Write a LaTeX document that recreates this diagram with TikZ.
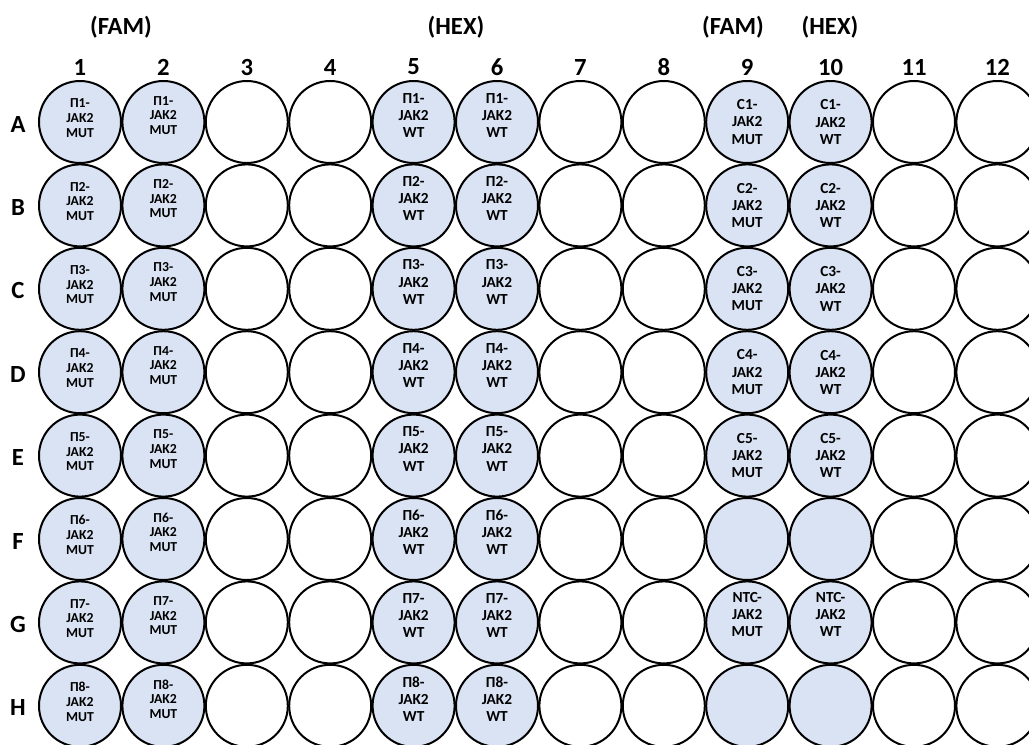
\documentclass[tikz,border=0pt]{standalone}
\usepackage{fontspec}
\setmainfont{Carlito}
\usepackage{tikz}
\usetikzlibrary{positioning}
\definecolor{WellBlue}{HTML}{DAE3F3}

\begin{document}
\begin{tikzpicture}[x=0.75pt, y=-0.75pt,
    well/.style={circle, draw=black, line width=1.5pt, fill=white, minimum size=61.5pt, inner sep=0pt},
    used/.style={well, fill=WellBlue},
    head/.style={font=\fontsize{18.5}{22}\selectfont\bfseries},
    tagA/.style={align=center, font=\fontsize{10.3}{11}\selectfont\bfseries},
    tagB/.style={align=center, font=\fontsize{11.5}{12.9}\selectfont\bfseries}
]
    \useasboundingbox (0,0) rectangle (1029,744);
    \clip (0,0) rectangle (1029,744);

    % dyes
    \node[head] (famA) at (121, 27) {(FAM)};
    \node[head] (hexA) at (456, 27) {(HEX)};
    \node[head] (famB) at (733, 27) {(FAM)};
    \node[head] (hexB) at (830, 27) {(HEX)};

    % plate
    \foreach \c/\s [count=\k from 0] in {1/used,2/used,3/well,4/well,5/used,6/used,7/well,8/well,9/used,10/used,11/well,12/well} {
        \node[head] (col\c) at (80+83.4*\k, 67) {\c};
        \foreach \r [count=\i from 0] in {A,B,C,D,E,F,G,H}
            \node[\s] (w\r\c) at (80+83.4*\k, 122+83.4*\i) {};
    }
    \foreach \r [count=\i from 0] in {A,B,C,D,E,F,G,H}
        \node[head] (row\r) at (18, 124+83.4*\i) {\r};

    % samples
    \foreach \r [count=\n] in {A,B,C,D,E,F,G,H} {
        \node[tagA, yshift=3pt] (t\r1) at (w\r1) {П\n-\\JAK2\\MUT};
        \node[tagA, yshift=5pt] (t\r2) at (w\r2) {П\n-\\JAK2\\MUT};
        \node[tagB, yshift=5pt] (t\r5) at (w\r5) {П\n-\\JAK2\\WT};
        \node[tagB, yshift=5pt] (t\r6) at (w\r6) {П\n-\\JAK2\\WT};
    }
    \foreach \r [count=\n] in {A,B,C,D,E} {
        \node[tagB] (t\r9) at (w\r9) {C\n-\\JAK2\\MUT};
        \node[tagB] (t\r10) at (w\r10) {C\n-\\JAK2\\WT};
    }
    \node[tagB, yshift=6pt] (tG9) at (wG9) {NTC-\\JAK2\\MUT};
    \node[tagB, yshift=6pt] (tG10) at (wG10) {NTC-\\JAK2\\WT};
\end{tikzpicture}
\end{document}
